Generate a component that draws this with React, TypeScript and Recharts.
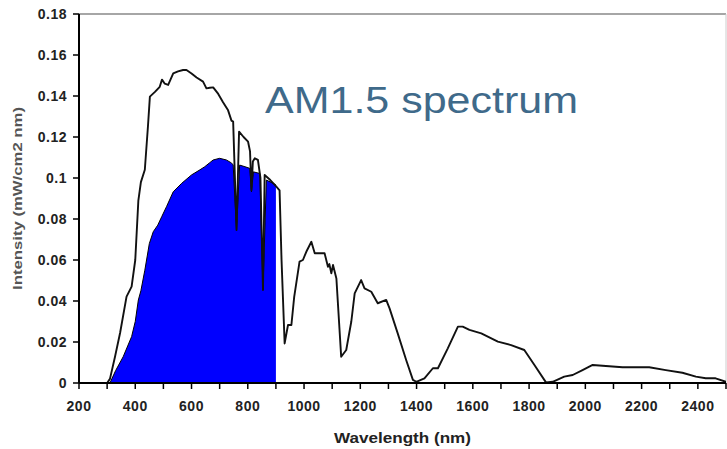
import React from 'react';
import { ComposedChart, Line, Area, XAxis, YAxis, ReferenceLine } from 'recharts';

// Full AM1.5 spectrum (black line)
const fullNm = [300, 310, 328, 346, 369, 387, 400, 411, 420, 434, 445, 452, 470, 487, 495, 505, 517, 535, 552, 570, 582, 600, 618, 641, 653, 665, 677, 695, 712, 730, 742, 748, 760, 769, 785, 801, 808, 813, 818, 825, 836, 845, 854, 860, 880, 900, 913, 920, 931, 943, 955, 965, 984, 996, 1008, 1026, 1038, 1073, 1085, 1090, 1097, 1103, 1115, 1132, 1150, 1168, 1180, 1203, 1215, 1239, 1262, 1292, 1304, 1333, 1363, 1387, 1399, 1428, 1458, 1476, 1511, 1547, 1564, 1588, 1630, 1689, 1736, 1783, 1819, 1860, 1884, 1925, 1955, 1990, 2026, 2073, 2132, 2227, 2286, 2345, 2393, 2428, 2463, 2500];
const fullVal = [0, 0.002, 0.0128, 0.0244, 0.0421, 0.047, 0.06, 0.089, 0.098, 0.104, 0.125, 0.1397, 0.142, 0.1445, 0.148, 0.146, 0.1454, 0.151, 0.152, 0.1527, 0.1527, 0.151, 0.149, 0.147, 0.1437, 0.144, 0.1442, 0.141, 0.137, 0.133, 0.128, 0.1275, 0.0746, 0.1226, 0.12, 0.1177, 0.113, 0.094, 0.108, 0.1096, 0.1088, 0.1, 0.0454, 0.1015, 0.099, 0.096, 0.094, 0.06, 0.0193, 0.0283, 0.0283, 0.042, 0.0592, 0.06, 0.064, 0.0689, 0.0633, 0.0633, 0.0567, 0.058, 0.0535, 0.0576, 0.051, 0.0128, 0.0161, 0.03, 0.0437, 0.0502, 0.0462, 0.0445, 0.0389, 0.0405, 0.0364, 0.0242, 0.0112, 0.0015, 0.0006, 0.0023, 0.0072, 0.0072, 0.0169, 0.0275, 0.0275, 0.0259, 0.0242, 0.0202, 0.0185, 0.0161, 0.0088, 0.0003, 0.0006, 0.0031, 0.0039, 0.0063, 0.0088, 0.0083, 0.0077, 0.0077, 0.0063, 0.005, 0.0031, 0.0023, 0.0023, 0.0006];

// Usable part (blue area)
const blueNm = [310, 330, 357, 387, 400, 411, 420, 434, 450, 464, 480, 494, 511, 535, 565, 600, 630, 647, 665, 677, 700, 724, 740, 748, 760, 771, 790, 807, 813, 820, 843, 854, 866, 890, 900];
const blueVal = [0, 0.006, 0.0128, 0.0226, 0.03, 0.0405, 0.045, 0.055, 0.068, 0.0738, 0.077, 0.0811, 0.086, 0.0933, 0.0974, 0.1015, 0.104, 0.1055, 0.1075, 0.1088, 0.1096, 0.1088, 0.1075, 0.1065, 0.0746, 0.1063, 0.1055, 0.1047, 0.0933, 0.103, 0.1022, 0.0454, 0.099, 0.0974, 0.0966];

const xTicks = [200, 300, 400, 500, 600, 700, 800, 900, 1000, 1100, 1200, 1300, 1400, 1500, 1600, 1700, 1800, 1900, 2000, 2100, 2200, 2300, 2400, 2500];
const yTicks = [0, 0.02, 0.04, 0.06, 0.08, 0.1, 0.12, 0.14, 0.16, 0.18];

const title = 'AM1.5 spectrum';
const xTitle = 'Wavelength (nm)';
const yTitle = 'Intensity (mW/cm2 nm)';

type Row = { nm: number; full?: number; blue?: number };
const rowMap = new Map<number, Row>();
fullNm.forEach((n, i) => {
  const r = rowMap.get(n) || { nm: n };
  r.full = fullVal[i];
  rowMap.set(n, r);
});
blueNm.forEach((n, i) => {
  const r = rowMap.get(n) || { nm: n };
  r.blue = blueVal[i];
  rowMap.set(n, r);
});
const data = Array.from(rowMap.values()).sort((a, b) => a.nm - b.nm);

const FONT = '"Liberation Sans", Arial, sans-serif';

export default function App() {
  return (
    <div style={{ position: 'absolute', left: 0, top: 0, width: 727, height: 449, background: '#fff' }}>
      <ComposedChart width={727} height={449} data={data} margin={{ top: 14, right: 1, bottom: 0, left: 0 }}>
        <XAxis
          type="number"
          dataKey="nm"
          domain={[200, 2500]}
          ticks={xTicks}
          interval={0}
          allowDataOverflow
          height={66}
          tickFormatter={(v: number) => (v % 200 === 0 && v < 2500 ? String(v) : '')}
          tickSize={6}
          tickMargin={12}
          axisLine={{ stroke: '#000', strokeWidth: 2 }}
          tickLine={{ stroke: '#000', strokeWidth: 1.5 }}
          tick={{ fill: '#222', fontSize: 14, fontWeight: 'bold', fontFamily: FONT, letterSpacing: 0.5 }}
          label={{
            content: (props: any) => {
              const vb = props.viewBox || { x: 79, y: 383, width: 647, height: 66 };
              const cx = vb.x + vb.width / 2;
              return (
                <text x={cx} y={vb.y + 60} textAnchor="middle" fill="#222" fontSize={15} fontWeight="bold" fontFamily={FONT} textLength={137} lengthAdjust="spacingAndGlyphs">
                  {xTitle}
                </text>
              );
            },
          }}
        />
        <YAxis
          type="number"
          domain={[0, 0.18]}
          ticks={yTicks}
          interval={0}
          allowDataOverflow
          width={79}
          tickFormatter={(v: number) => String(parseFloat(v.toFixed(2)))}
          tickSize={6}
          tickMargin={6}
          axisLine={{ stroke: '#000', strokeWidth: 2 }}
          tickLine={{ stroke: '#000', strokeWidth: 1.5 }}
          tick={{ fill: '#222', fontSize: 14, fontWeight: 'bold', fontFamily: FONT, letterSpacing: 0.5 }}
          label={{
            content: (props: any) => {
              const vb = props.viewBox || { x: 0, y: 14, width: 79, height: 369 };
              const cx = vb.x + 17;
              const cy = vb.y + vb.height / 2;
              return (
                <text x={cx} y={cy} transform={`rotate(-90 ${cx} ${cy})`} textAnchor="middle" dominantBaseline="central" fill="#555" fontSize={13} fontWeight="bold" fontFamily={FONT} textLength={183} lengthAdjust="spacingAndGlyphs">
                  {yTitle}
                </text>
              );
            },
          }}
        />
        <ReferenceLine y={0.18} stroke="#888" strokeWidth={1.5} />
        <ReferenceLine x={2500} stroke="#ccc" strokeWidth={1} />
        <Area
          type="linear"
          dataKey="blue"
          stroke="#000"
          strokeWidth={1}
          fill="#0000ff"
          fillOpacity={1}
          baseValue={0}
          connectNulls
          dot={false}
          activeDot={false}
          isAnimationActive={false}
        />
        <Line
          type="linear"
          dataKey="full"
          stroke="#111"
          strokeWidth={1.9}
          strokeLinejoin="round"
          dot={false}
          activeDot={false}
          connectNulls
          isAnimationActive={false}
        />
      </ComposedChart>
      <svg width={727} height={449} style={{ position: 'absolute', left: 0, top: 0, pointerEvents: 'none' }}>
        <text x={265} y={113} fill="#3f6a8a" fontSize={37} fontFamily={FONT} textLength={313} lengthAdjust="spacingAndGlyphs">
          {title}
        </text>
      </svg>
    </div>
  );
}
